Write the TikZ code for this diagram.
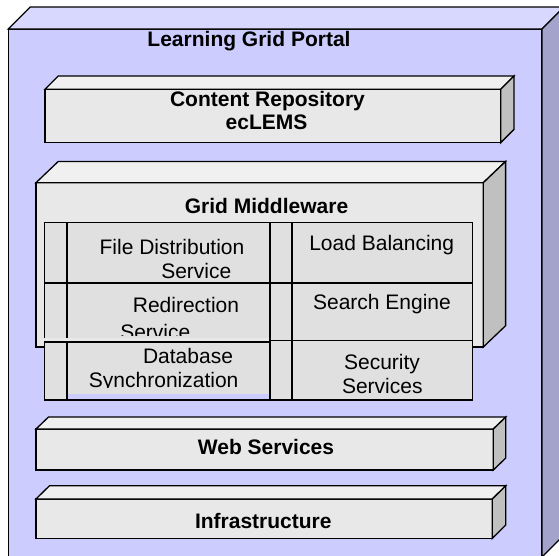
\documentclass[tikz,border=0pt]{standalone}
\usepackage{fontspec}
\setmainfont{Liberation Sans}

% colours of the faces
\definecolor{portalfront}{RGB}{204,204,255}
\definecolor{portaltop}{RGB}{216,216,255}
\definecolor{portalside}{RGB}{163,163,204}
\definecolor{slabfront}{RGB}{232,232,232}
\definecolor{slabtop}{RGB}{240,240,240}
\definecolor{slabside}{RGB}{192,192,192}
\definecolor{cellfill}{RGB}{224,224,224}

% a box seen in perspective: front face, top face and right face
% #1,#2 front top-left; #3,#4 front bottom-right; #5,#6 depth; #7 colour prefix
\newcommand{\perspbox}[7]{%
  \filldraw[outline, fill=#7front] (#1,#2) rectangle (#3,#4);
  \filldraw[outline, fill=#7top] (#1,#2) -- (#1+#5,#2-#6) -- (#3+#5,#2-#6) -- (#3,#2) -- cycle;
  \filldraw[outline, fill=#7side] (#3,#2) -- (#3+#5,#2-#6) -- (#3+#5,#4-#6) -- (#3,#4) -- cycle;
}

\tikzset{
  outline/.style={draw=black, line width=1.3pt},
  sep/.style={draw=black, line width=2.1pt},
  lbl/.style={anchor=base, inner sep=0pt, font=\fontsize{21}{24}\selectfont},
  hdr/.style={anchor=base, inner sep=0pt, font=\fontsize{21}{24}\selectfont\bfseries},
}

\begin{document}
\begin{tikzpicture}[x=1pt, y=-1pt]
  \useasboundingbox (0,0) rectangle (559,555);
  \fill[white] (0,0) rectangle (559,555);
  \clip (0,0) rectangle (559,555);

  % outer portal
  \perspbox{8.3}{29}{542}{557}{22}{22}{portal}
  \node[hdr] (portal) at (249,46.7) {Learning Grid Portal};

  % content repository
  \perspbox{45}{89.3}{500.7}{142.7}{13.3}{13.3}{slab}
  \node[hdr] (repo1) at (267.5,106) {Content Repository};
  \node[hdr] (repo2) at (266.5,129.3) {ecLEMS};

  % grid middleware
  \perspbox{36}{182.7}{483.3}{347}{22.3}{21.3}{slab}
  \node[hdr] (mw) at (266.5,213.3) {Grid Middleware};

  % left service table, first two rows
  \fill[cellfill] (44.3,222.7) rectangle (270,338);
  \draw[outline] (44.3,338) -- (44.3,222.7) -- (270,222.7) -- (270,338);
  \draw[sep] (44.3,282.7) -- (270,282.7);
  \draw[sep] (66.7,222.7) -- (66.7,338);

  % left service table, third row
  \fill[cellfill] (44.3,342) rectangle (270,400);
  \fill[portalfront] (66.7,393.5) rectangle (270,400);
  \draw[outline] (44.3,342) rectangle (270,400);
  \draw[sep] (66.7,342) -- (66.7,400);

  % right service table
  \fill[cellfill] (270,222.7) rectangle (472.3,400);
  \draw[outline] (270,222.7) rectangle (472.3,400);
  \draw[sep] (270,282.7) -- (472.3,282.7);
  \draw[outline] (270,340.5) -- (472.3,340.5);
  \draw[sep] (291.7,222.7) -- (291.7,400);

  % service labels
  \node[lbl] (fd1) at (172,254) {File Distribution};
  \node[lbl] (fd2) at (196.3,278.3) {Service};
  \node[lbl] (rd1) at (186,312.7) {Redirection};
  \begin{scope}
    \clip (66.7,282.7) rectangle (270,335.5);
    \node[lbl] (rd2) at (155.3,339.5) {Service};
  \end{scope}
  \node[lbl] (db1) at (188,363.3) {Database};
  \begin{scope}
    \clip (66.7,342) rectangle (270,387.4);
    \node[lbl] (db2) at (163.7,387) {Synchronization};
  \end{scope}
  \node[lbl] (lb) at (381.7,250) {Load Balancing};
  \node[lbl] (se) at (382,309) {Search Engine};
  \node[lbl] (sec1) at (382,369.3) {Security};
  \node[lbl] (sec2) at (382.3,393.3) {Services};

  % web services
  \perspbox{36}{429}{493.3}{470}{12.5}{12}{slab}
  \node[hdr] (web) at (266,454) {Web Services};

  % infrastructure
  \perspbox{36}{499}{492.3}{538.3}{13.5}{13.3}{slab}
  \node[hdr] (infra) at (263.3,528.3) {Infrastructure};
\end{tikzpicture}
\end{document}
